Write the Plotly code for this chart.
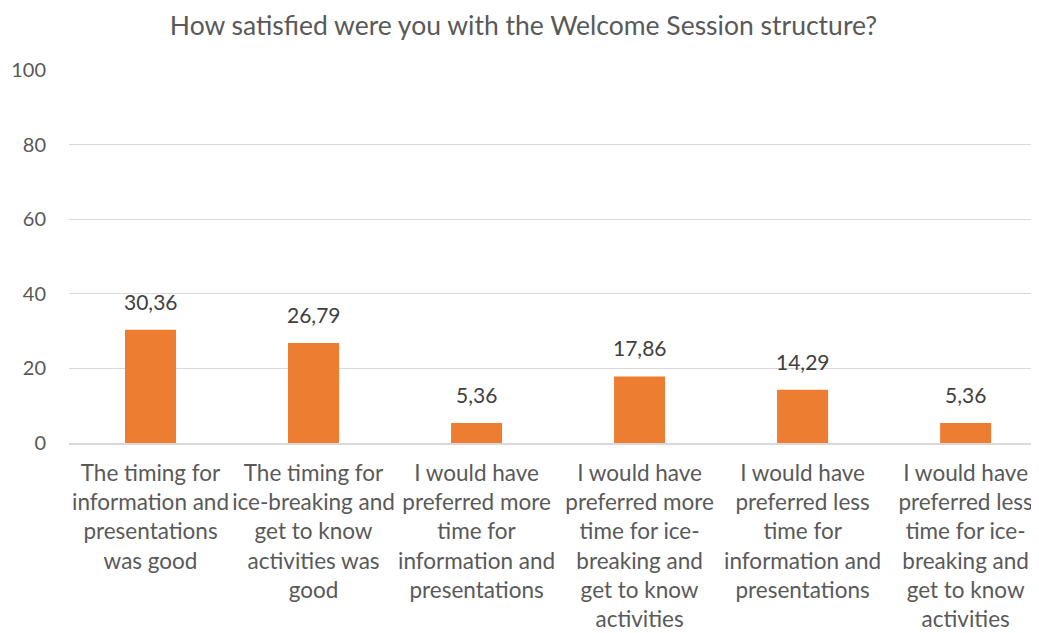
import plotly.graph_objects as go

categories = [
    "The timing for<br>information and<br>presentations<br>was good",
    "The timing for<br>ice-breaking and<br>get to know<br>activities was<br>good",
    "I would have<br>preferred more<br>time for<br>information and<br>presentations",
    "I would have<br>preferred more<br>time for ice-<br>breaking and<br>get to know<br>activities",
    "I would have<br>preferred less<br>time for<br>information and<br>presentations",
    "I would have<br>preferred less<br>time for ice-<br>breaking and<br>get to know<br>activities",
]
values = [30.36, 26.79, 5.36, 17.86, 14.29, 5.36]
y_ticks = [0, 20, 40, 60, 80, 100]
title = "How satisfied were you with the Welcome Session structure?"

FONT = "Lato"
labels = [f"{v:.2f}".replace(".", ",") for v in values]

fig = go.Figure()
fig.add_trace(go.Bar(
    x=list(range(len(categories))), y=values,
    marker=dict(color="#ED7D31", line=dict(width=0)),
    width=0.313,
    hoverinfo="skip",
))

for i, (v, t) in enumerate(zip(values, labels)):
    fig.add_annotation(x=i, y=v, text=t, showarrow=False, yanchor="bottom",
                       yshift=14, font=dict(family=FONT, size=21, color="#404040"))

# the page body has an 8px margin, so the figure is 8px smaller and margins compensate
fig.update_layout(
    width=1031, height=625,
    margin=dict(l=61, r=0, t=62, b=190),
    paper_bgcolor="white", plot_bgcolor="white",
    showlegend=False,
    title=dict(text=title, x=0.5, xanchor="center", y=0.972, yanchor="middle",
               font=dict(family=FONT, size=26.5, color="#595959")),
    xaxis=dict(
        range=[-0.5, 5.45], automargin=False,
        tickmode="array", tickvals=list(range(len(categories))), ticktext=categories,
        tickfont=dict(family=FONT, size=22.5, color="#595959"),
        showgrid=False, zeroline=False, showline=True, linecolor="#D9D9D9", linewidth=1.5,
        ticks="", ticklabelstandoff=9, fixedrange=True,
    ),
    yaxis=dict(
        range=[0, 100], tickmode="array", tickvals=y_ticks, automargin=False,
        tickfont=dict(family=FONT, size=20, color="#595959"),
        showgrid=True, gridcolor="#D9D9D9", gridwidth=1.2,
        zeroline=False, showline=False, ticks="", ticklabelstandoff=22,
        fixedrange=True,
    ),
)

fig.write_html("out.html")
